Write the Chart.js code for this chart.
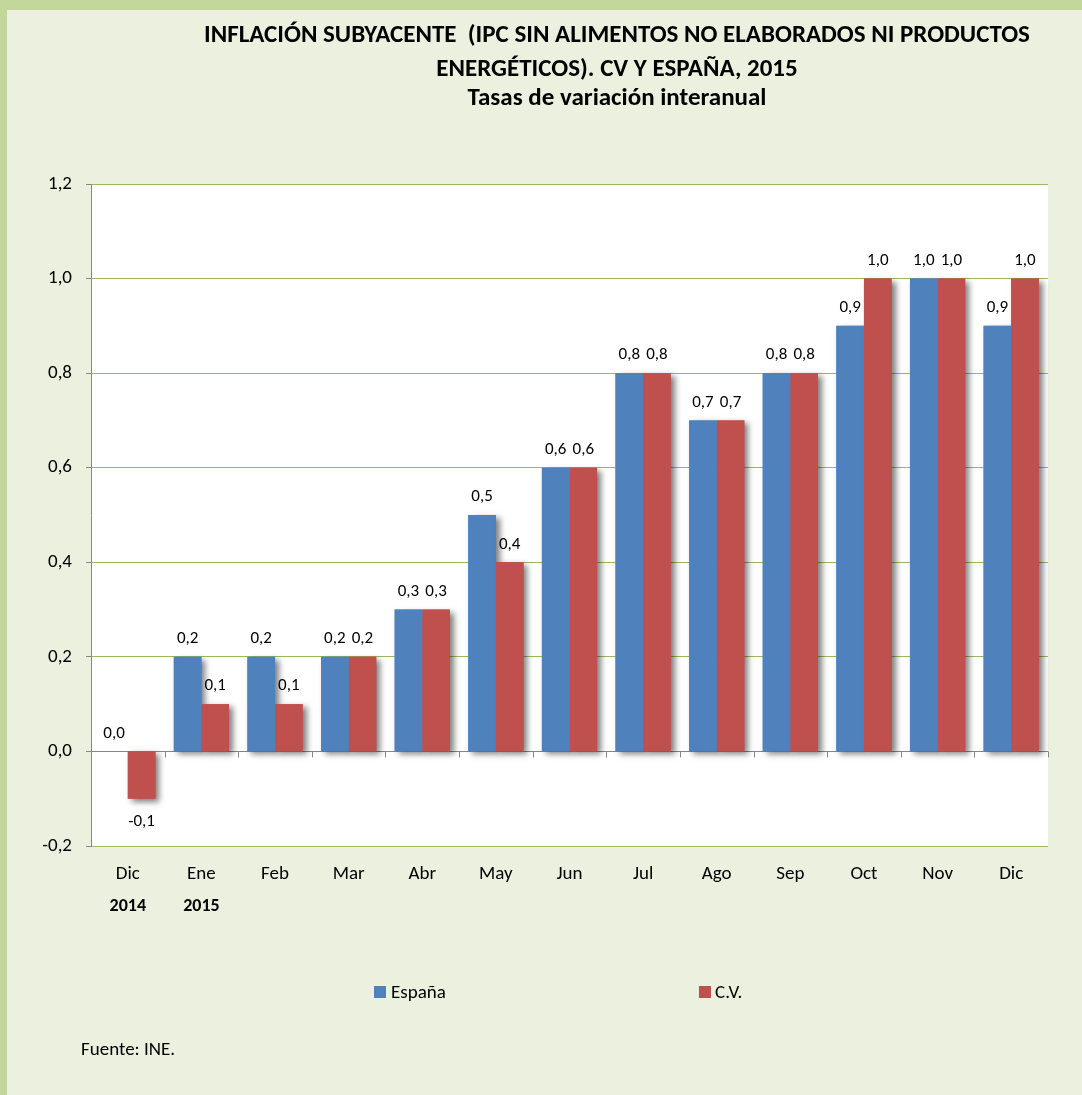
<!DOCTYPE html>
<html>
<head>
<meta charset="utf-8">
<script src="https://cdn.jsdelivr.net/npm/chart.js@4.4.0/dist/chart.umd.min.js"></script>
<style>
  html, body { margin: 0; padding: 0; background: #EBF1DE; }
  #wrap { position: relative; width: 1082px; height: 1095px; }
  canvas { position: absolute; left: 0; top: 0; }
</style>
</head>
<body>
<div id="wrap"><canvas id="chart" width="1082" height="1095"></canvas></div>
<script>
const months = ["Dic", "Ene", "Feb", "Mar", "Abr", "May", "Jun", "Jul", "Ago", "Sep", "Oct", "Nov", "Dic"];
const years = ["2014", "2015", "", "", "", "", "", "", "", "", "", "", ""];
const espana = [0.0, 0.2, 0.2, 0.2, 0.3, 0.5, 0.6, 0.8, 0.7, 0.8, 0.9, 1.0, 0.9];
const cv = [-0.1, 0.1, 0.1, 0.2, 0.3, 0.4, 0.6, 0.8, 0.7, 0.8, 1.0, 1.0, 1.0];
const titleLines = [
    "INFLACIÓN SUBYACENTE  (IPC SIN ALIMENTOS NO ELABORADOS NI PRODUCTOS",
    "ENERGÉTICOS). CV Y ESPAÑA, 2015",
    "Tasas de variación interanual"
];

const FONT = "Carlito, Calibri, Lato, sans-serif";
const blue = "#4F81BD";
const red = "#C0504D";
const gridGreen = "#9BBB59";
const axisGray = "#868686";

const fmt = v => {
    const r = Math.round(v * 10) / 10;
    return (Math.abs(r) < 1e-9 ? 0 : r).toFixed(1).replace(".", ",");
};

// background, border and white plot area
const backdrop = {
    id: "backdrop",
    beforeDraw(chart) {
        const c = chart.ctx, a = chart.chartArea;
        c.save();
        c.fillStyle = "#EBF1DE";
        c.fillRect(0, 0, chart.width, chart.height);
        c.fillStyle = "#C4D79B";
        c.fillRect(0, 0, chart.width, 10);
        c.fillRect(0, 0, 7, chart.height);
        c.fillStyle = "#FFFFFF";
        c.fillRect(a.left, a.top, a.right - a.left, a.bottom - a.top);
        c.restore();
    }
};

// shadows under bars, drawn before the bars themselves
const barShadow = {
    id: "barShadow",
    beforeDatasetsDraw(chart) {
        const c = chart.ctx;
        c.save();
        c.shadowColor = "rgba(0,0,0,0.5)";
        c.shadowBlur = 6;
        c.shadowOffsetX = 4;
        c.shadowOffsetY = 3;
        chart.data.datasets.forEach((ds, i) => {
            chart.getDatasetMeta(i).data.forEach(bar => {
                const p = bar.getProps(["x", "y", "base", "width"], true);
                const top = Math.min(p.y, p.base), h = Math.abs(p.base - p.y);
                if (h < 1) return;
                c.fillStyle = ds.backgroundColor;
                c.fillRect(p.x - p.width / 2, top, p.width, h);
            });
        });
        c.restore();
    }
};

// labels, x tick marks on zero line, years, legend and source
const extras = {
    id: "extras",
    afterDraw(chart) {
        const c = chart.ctx, x = chart.scales.x, y = chart.scales.y;
        c.save();

        // tick marks on the zero line
        const y0 = y.getPixelForValue(0);
        c.strokeStyle = axisGray;
        c.lineWidth = 1;
        for (let i = 0; i <= months.length; i++) {
            const px = Math.round(x.left + (x.right - x.left) * i / months.length) + 0.5;
            c.beginPath();
            c.moveTo(px, y0);
            c.lineTo(px, y0 + 6);
            c.stroke();
        }

        // data labels
        c.fillStyle = "#000";
        c.font = "17px " + FONT;
        c.textAlign = "center";
        c.textBaseline = "middle";
        chart.data.datasets.forEach((ds, i) => {
            chart.getDatasetMeta(i).data.forEach((bar, j) => {
                const v = ds.data[j];
                const py = v < 0 ? bar.y + 23 : bar.y - 18;
                c.fillText(fmt(v), bar.x, py);
            });
        });

        // years
        c.font = "bold 18px " + FONT;
        years.forEach((t, i) => {
            if (t) c.fillText(t, x.getPixelForValue(i), 906);
        });

        // title
        c.font = "bold 25px " + FONT;
        c.fillText(titleLines[0], 617, 36);
        c.fillText(titleLines[1], 617, 70);
        c.fillText(titleLines[2], 617, 99);

        // legend
        c.font = "19px " + FONT;
        c.textAlign = "left";
        c.fillStyle = blue;
        c.fillRect(374, 986, 12, 12);
        c.fillStyle = red;
        c.fillRect(699, 986, 12, 12);
        c.fillStyle = "#000";
        c.fillText("España", 391, 993);
        c.fillText("C.V.", 715, 993);

        // source
        c.fillText("Fuente: INE.", 81, 1050);
        c.restore();
    }
};

new Chart(document.getElementById("chart"), {
    type: "bar",
    data: {
        labels: months,
        datasets: [
            { label: "España", data: espana, backgroundColor: blue },
            { label: "C.V.", data: cv, backgroundColor: red }
        ]
    },
    options: {
        responsive: false,
        animation: false,
        layout: { padding: { left: 0, top: 184, right: 34, bottom: 189 } },
        datasets: { bar: { categoryPercentage: 0.75, barPercentage: 1.0 } },
        plugins: {
            legend: { display: false },
            tooltip: { enabled: false }
        },
        scales: {
            x: {
                grid: { display: false },
                border: { display: false },
                afterFit: s => { s.height = 60; },
                ticks: { color: "#000", padding: 9, font: { family: FONT, size: 19 }, maxRotation: 0 }
            },
            y: {
                min: -0.2,
                max: 1.2,
                afterFit: s => { s.width = 91; },
                border: { color: axisGray },
                grid: {
                    color: ctx => (ctx.tick && Math.abs(ctx.tick.value) < 1e-9 ? axisGray : gridGreen),
                    tickColor: axisGray,
                    tickLength: 5
                },
                ticks: {
                    stepSize: 0.2,
                    color: "#000",
                    padding: 14,
                    font: { family: FONT, size: 19 },
                    callback: v => fmt(v)
                }
            }
        }
    },
    plugins: [backdrop, barShadow, extras]
});
</script>
</body>
</html>
